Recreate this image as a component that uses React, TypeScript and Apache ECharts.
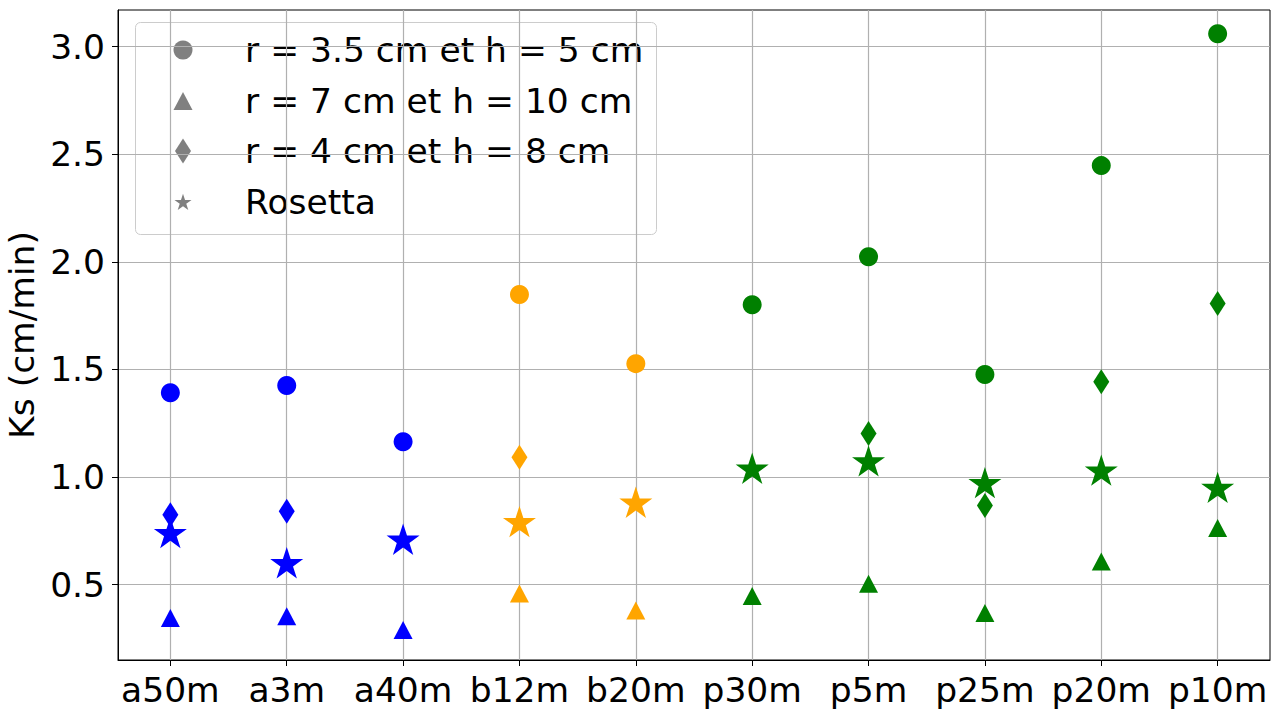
import React, { useEffect, useRef } from "react";
import * as echarts from "echarts";

const categories = ["a50m", "a3m", "a40m", "b12m", "b20m", "p30m", "p5m", "p25m", "p20m", "p10m"];
const pointColors = ["#0000ff", "#0000ff", "#0000ff", "#ffa500", "#ffa500", "#008000", "#008000", "#008000", "#008000", "#008000"];

const legendNames = ["r = 3.5 cm et h = 5 cm", "r = 7 cm et h = 10 cm", "r = 4 cm et h = 8 cm", "Rosetta"];

const circleValues = [1.392, 1.425, 1.164, 1.848, 1.527, 1.801, 2.024, 1.476, 2.447, 3.060];
const triangleValues = [0.345, 0.353, 0.289, 0.459, 0.380, 0.447, 0.504, 0.368, 0.608, 0.763];
const diamondValues: (number | null)[] = [0.825, 0.841, null, 1.092, null, null, 1.202, 0.868, 1.443, 1.806];
const rosettaValues = [0.742, 0.602, 0.711, 0.793, 0.883, 1.041, 1.075, 0.974, 1.032, 0.952];

const yTickValues = [0.5, 1.0, 1.5, 2.0, 2.5, 3.0];

function starPoints(cx: number, cy: number, R: number): number[][] {
  const pts: number[][] = [];
  const r = R * 0.382;
  for (let k = 0; k < 10; k++) {
    const ang = (-90 + k * 36) * Math.PI / 180;
    const rad = k % 2 === 0 ? R : r;
    pts.push([cx + rad * Math.cos(ang), cy + rad * Math.sin(ang)]);
  }
  return pts;
}
const starPath = "path://" + starPoints(0, 0, 100).map((p, i) => (i === 0 ? "M" : "L") + p[0].toFixed(2) + " " + p[1].toFixed(2)).join(" ") + " Z";

const FONT = "'DejaVu Sans', sans-serif";
const FS = 34.5;

function buildData(values: (number | null)[]) {
  return values.map((v, i) => (v === null ? null : { value: [i, v], itemStyle: { color: pointColors[i], opacity: 1 } })).filter((d) => d !== null);
}

export default function App() {
  const ref = useRef<HTMLDivElement>(null);
  useEffect(() => {
    document.body.style.margin = "0";
    const chart = echarts.init(ref.current!, null, { renderer: "svg" });
    const legendRows = [50, 101, 151, 202];
    const legendX = 183;
    const option: any = {
      animation: false,
      backgroundColor: "#ffffff",
      grid: { left: 118, right: 9, top: 10, bottom: 50, show: true, borderColor: "#000", borderWidth: 1, backgroundColor: "transparent", containLabel: false, outerBoundsMode: "none" },
      xAxis: {
        type: "value",
        min: -0.45,
        max: 9.45,
        splitNumber: 10,
        axisLine: { show: true, onZero: false, lineStyle: { color: "#000", width: 1 } },
        axisTick: { show: true, inside: false, length: 6, lineStyle: { color: "#000" }, customValues: categories.map((_, i) => i) },
        axisLabel: {
          customValues: categories.map((_, i) => i),
          formatter: (v: number) => categories[Math.round(v)] ?? "",
          color: "#000", fontSize: FS, fontFamily: FONT, margin: 12,
        },
        splitLine: { show: true, lineStyle: { color: "#b0b0b0", width: 1.2 } },
      },
      yAxis: {
        type: "value",
        min: 0.15,
        max: 3.17,
        name: "Ks (cm/min)",
        nameLocation: "middle",
        nameGap: 73,
        nameTextStyle: { color: "#000", fontSize: FS, fontFamily: FONT },
        axisLine: { show: true, onZero: false, lineStyle: { color: "#000", width: 1 } },
        axisTick: { show: true, inside: false, length: 6, lineStyle: { color: "#000" }, customValues: yTickValues },
        axisLabel: {
          customValues: yTickValues,
          formatter: (v: number) => v.toFixed(1),
          color: "#000", fontSize: FS, fontFamily: FONT, margin: 13,
        },
        splitLine: { show: true, lineStyle: { color: "#b0b0b0", width: 1.2 } },
      },
      series: [
        { type: "scatter", name: legendNames[0], symbol: "circle", symbolSize: 19, itemStyle: { opacity: 1 }, data: buildData(circleValues), z: 2 },
        { type: "scatter", name: legendNames[1], symbol: "triangle", symbolSize: [19, 18], itemStyle: { opacity: 1 }, data: buildData(triangleValues), z: 3 },
        { type: "scatter", name: legendNames[2], symbol: "diamond", symbolSize: [16, 25], itemStyle: { opacity: 1 }, data: buildData(diamondValues), z: 4 },
        { type: "scatter", name: legendNames[3], symbol: starPath, symbolSize: [33, 31.4], itemStyle: { opacity: 1 }, data: buildData(rosettaValues), z: 5 },
      ],
      graphic: [
        {
          type: "group", z: 100, children: [
            { type: "rect", shape: { x: 135.5, y: 22.5, width: 521, height: 212, r: 5 }, style: { fill: "rgba(255,255,255,0.8)", stroke: "#cccccc", lineWidth: 1 } },
            { type: "circle", shape: { cx: legendX, cy: legendRows[0], r: 9.5 }, style: { fill: "#808080" } },
            { type: "polygon", shape: { points: [[legendX, legendRows[1] - 9], [legendX - 9.5, legendRows[1] + 9], [legendX + 9.5, legendRows[1] + 9]] }, style: { fill: "#808080" } },
            { type: "polygon", shape: { points: [[legendX, legendRows[2] - 12.5], [legendX + 8, legendRows[2]], [legendX, legendRows[2] + 12.5], [legendX - 8, legendRows[2]]] }, style: { fill: "#808080" } },
            { type: "polygon", shape: { points: starPoints(legendX, legendRows[3] + 0.8, 9) }, style: { fill: "#808080" } },
            ...legendNames.map((n, i) => ({
              type: "text", x: 245, y: legendRows[i],
              style: { text: n, fill: "#000", fontSize: FS, fontFamily: FONT, verticalAlign: "middle", align: "left" },
            })),
          ],
        },
      ],
    };
    chart.setOption(option);
    return () => chart.dispose();
  }, []);
  return <div ref={ref} style={{ width: 1279, height: 710 }} />;
}
